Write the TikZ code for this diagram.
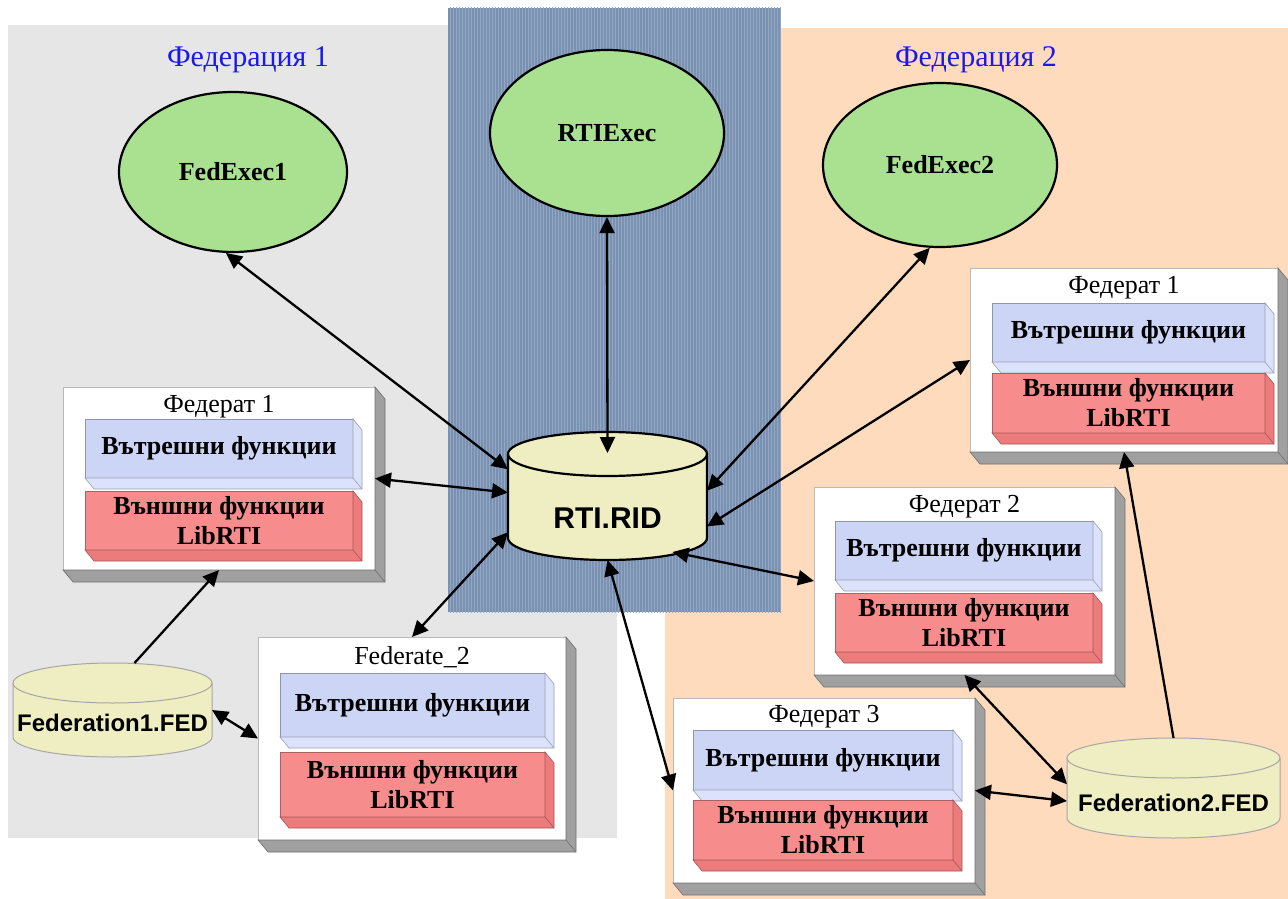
\documentclass[tikz,border=0pt]{standalone}
\usepackage{fontspec}
\setmainfont{Liberation Serif}
\setsansfont{Liberation Sans}
\usepackage{tikz}
\usetikzlibrary{arrows.meta, calc, positioning, shapes.geometric, patterns}

\definecolor{fedgray}{RGB}{230,230,230}
\definecolor{fedpeach}{RGB}{253,219,188}
\definecolor{rtiblue}{RGB}{122,145,178}
\definecolor{rtistripe}{RGB}{146,167,196}
\definecolor{execgreen}{RGB}{170,225,145}
\definecolor{dbyellow}{RGB}{238,238,194}
\definecolor{inblue}{RGB}{205,213,246}
\definecolor{inblueside}{RGB}{220,226,251}
\definecolor{outred}{RGB}{246,140,140}
\definecolor{outredside}{RGB}{236,124,124}
\definecolor{boxside}{RGB}{160,160,160}
\definecolor{titleblue}{RGB}{25,25,235}

% 3d side of a box: node, offset, colour
\newcommand{\extrude}[3]{%
  \filldraw[fill=#3, draw=#3!70!black, line width=0.6pt] (#1.north east) -- ++(#2) -- ($(#1.south east)+(#2)$)
    -- ($(#1.south west)+(#2)$) -- (#1.south west) -- (#1.south east) -- cycle;
  \draw[#3!70!black, line width=0.6pt] (#1.south east) -- ++(#2);
}
% database drum: centre, half width, half height, cap radius, style
\newcommand{\drum}[5]{%
  \filldraw[#5] ($(#1)+(-#2,#4-#3)$) -- ($(#1)+(-#2,#3-#4)$)
    arc[start angle=180, end angle=360, x radius=#2pt, y radius=#4pt]
    -- ($(#1)+(#2,#4-#3)$)
    arc[start angle=0, end angle=180, x radius=#2pt, y radius=#4pt] -- cycle;
  \draw[#5, fill=none] ($(#1)+(-#2,#4-#3)$) arc[start angle=180, end angle=360, x radius=#2pt, y radius=#4pt];
}

\tikzset{
  exec/.style={ellipse, draw, line width=2.2pt, fill=execgreen, inner sep=0pt, font=\bfseries\fontsize{26}{28}\selectfont},
  fedbox/.style={rectangle, draw=gray!55, fill=white, inner sep=0pt, outer sep=0pt, anchor=north west, minimum width=308pt, minimum height=184pt},
  fedtitle/.style={inner sep=0pt, anchor=north, font=\fontsize{26}{28}\selectfont},
  inslab/.style={rectangle, draw=inblue!70!black, line width=0.6pt, fill=inblue, inner sep=0pt, outer sep=0pt, minimum height=59pt, font=\bfseries\fontsize{26}{30}\selectfont},
  outslab/.style={inslab, draw=outred!70!black, fill=outred, align=center},
  dbnode/.style={rectangle, inner sep=0pt, outer sep=0pt, text depth=0pt, font=\sffamily\bfseries\fontsize{24}{26}\selectfont},
  link/.style={line width=2.3pt, {Triangle[length=16pt,width=15pt]}-{Triangle[length=16pt,width=15pt]}},
  feed/.style={line width=2.3pt, -{Triangle[length=16pt,width=15pt]}},
}

\begin{document}
\begin{tikzpicture}[x=1pt, y=-1pt]
  \useasboundingbox[fill=white] (0,0) rectangle (1288,899);
  % regions
  \fill[fedgray] (8,25) rectangle (617,838);
  \fill[fedpeach] (665,28) rectangle (1288,899);
  \fill[rtiblue] (448,8) rectangle (781,612);
  \fill[pattern=vertical lines, pattern color=rtistripe] (448,8) rectangle (781,612);
  \node[font=\fontsize{30}{32}\selectfont, text=titleblue] (fn1) at (248,60) {Федерация 1};
  \node[font=\fontsize{30}{32}\selectfont, text=titleblue] (fn2) at (976,60) {Федерация 2};

  % executives
  \node[exec, minimum width=228pt, minimum height=160pt] (fe1) at (233,172) {FedExec1};
  \node[exec, minimum width=234pt, minimum height=166pt] (rte) at (607,133) {RTIExec};
  \node[exec, minimum width=234pt, minimum height=164pt] (fe2) at (940,165) {FedExec2};

  % Федерат 1, federation 1
  \node[fedbox, minimum width=312pt, minimum height=183pt] (f1l) at (63,387) {};
  \extrude{f1l}{10,12}{boxside}
  \node[fedtitle, below=8pt of f1l.north] (f1lt) {Федерат 1};
  \node[inslab, minimum width=268pt, below right=32pt and 22pt of f1l.north west] (f1lin) {Вътрешни функции};
  \extrude{f1lin}{9,11}{inblueside}
  \node[outslab, minimum width=268pt, below=13pt of f1lin] (f1lout) {Външни функции\\LibRTI};
  \extrude{f1lout}{9,11}{outredside}

  % Federate_2, federation 1
  \node[fedbox, minimum height=203pt] (f2l) at (258,637) {};
  \extrude{f2l}{10,12}{boxside}
  \node[fedtitle, below=9pt of f2l.north] (f2lt) {Federate\_2};
  \node[inslab, minimum width=265pt, minimum height=64pt, below right=36pt and 22pt of f2l.north west] (f2lin) {Вътрешни функции};
  \extrude{f2lin}{9,11}{inblueside}
  \node[outslab, minimum width=265pt, minimum height=65pt, below=15pt of f2lin] (f2lout) {Външни функции\\LibRTI};
  \extrude{f2lout}{9,11}{outredside}

  % Федерат 1, federation 2
  \node[fedbox] (f1r) at (970,268) {};
  \extrude{f1r}{10,12}{boxside}
  \node[fedtitle, below=8pt of f1r.north] (f1rt) {Федерат 1};
  \node[inslab, minimum width=273pt, below right=35pt and 22pt of f1r.north west] (f1rin) {Вътрешни функции};
  \extrude{f1rin}{9,11}{inblueside}
  \node[outslab, minimum width=273pt, minimum height=60pt, below=11pt of f1rin] (f1rout) {Външни функции\\LibRTI};
  \extrude{f1rout}{9,11}{outredside}

  % Федерат 2
  \node[fedbox, minimum width=301pt, minimum height=188pt] (f2r) at (814,487) {};
  \extrude{f2r}{10,12}{boxside}
  \node[fedtitle, below=8pt of f2r.north] (f2rt) {Федерат 2};
  \node[inslab, minimum width=258pt, below right=34pt and 21pt of f2r.north west] (f2rin) {Вътрешни функции};
  \extrude{f2rin}{9,11}{inblueside}
  \node[outslab, minimum width=258pt, below=13pt of f2rin] (f2rout) {Външни функции\\LibRTI};
  \extrude{f2rout}{9,11}{outredside}

  % Федерат 3
  \node[fedbox, minimum width=302pt, minimum height=185pt] (f3r) at (673,698) {};
  \extrude{f3r}{10,12}{boxside}
  \node[fedtitle, below=7pt of f3r.north] (f3rt) {Федерат 3};
  \node[inslab, minimum width=260pt, minimum height=60pt, below right=32pt and 20pt of f3r.north west] (f3rin) {Вътрешни функции};
  \extrude{f3rin}{9,11}{inblueside}
  \node[outslab, minimum width=260pt, minimum height=60pt, below=10pt of f3rin] (f3rout) {Външни функции\\LibRTI};
  \extrude{f3rout}{9,11}{outredside}

  % databases
  \drum{607.5,496}{99.5}{64}{22}{line width=2.2pt, fill=dbyellow}
  \node[dbnode, font=\sffamily\bfseries\fontsize{30}{32}\selectfont, minimum width=199pt, minimum height=128pt, text height=65pt] (rid) at (607.5,496) {RTI.RID};
  \drum{112.5,710}{99.5}{47}{20}{line width=1pt, draw=black!35, fill=dbyellow}
  \node[dbnode, minimum width=199pt, minimum height=94pt, text height=43pt] (fed1) at (112.5,710) {Federation1.FED};
  \drum{1173.5,788}{106.5}{50}{20}{line width=1pt, draw=black!35, fill=dbyellow}
  \node[dbnode, minimum width=213pt, minimum height=100pt, text height=47pt] (fed2) at (1173.5,788) {Federation2.FED};

  % connections
  \draw[link] (fe1.265) -- (rid.165);
  \draw[link] (rte.south) -- ($(rid.north)+(0,21)$);
  \draw[link] (fe2.263) -- (rid.3);
  \draw[link] (f1r.west) -- (rid.343);
  \draw[link] (f1l.east) -- (rid.178);
  \draw[link] (f2l.north) -- (rid.200);
  \draw[link] ($(rid.south)+(65,-8)$) -- (f2r.west);
  \draw[link] (rid.south) -- (f3r.west);
  \draw[feed] ($(fed1.north)+(22,0)$) -- (f1l.south);
  \draw[link] (fed1.east) -- (f2l.west);
  \draw[link] (f2r.south) -- (fed2.178);
  \draw[link] (f3r.east) -- (fed2.187);
  \draw[feed] (fed2.north) -- (f1r.south);
\end{tikzpicture}
\end{document}
